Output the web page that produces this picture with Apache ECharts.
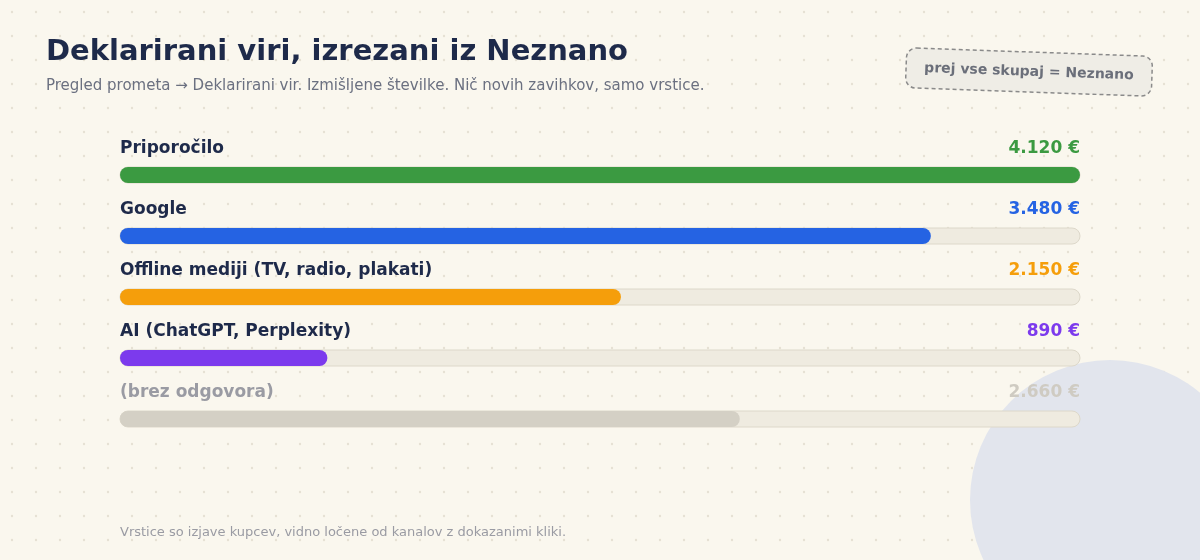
<!DOCTYPE html>
<html lang="sl">
<head>
<meta charset="UTF-8">
<title>Deklarirani viri</title>
<script src="https://cdn.jsdelivr.net/npm/echarts@6/dist/echarts.min.js"></script>
<style>html,body{margin:0;padding:0;background:#faf7ee}</style>
</head>
<body>
<div id="chart" style="width:1200px;height:560px;"></div>
<script>
    // podatki
    let sources = ['Priporočilo', 'Google', 'Offline mediji (TV, radio, plakati)', 'AI (ChatGPT, Perplexity)', '(brez odgovora)'];
    let amounts = [4120, 3480, 2150, 890, 2660];
    let colors = ['#3b9a41', '#2563e3', '#f59e0b', '#7c3aed', '#d4d0c5'];
    let nameColors = ['#1e2a4a', '#1e2a4a', '#1e2a4a', '#1e2a4a', '#9a9ba3'];
    let valueColors = ['#3b9a41', '#2563e3', '#f59e0b', '#7c3aed', '#cfcbc2'];
    let maxAmount = 4120;

    let font = '"DejaVu Sans", sans-serif';
    let fmt = function (v) { return String(v).replace(/\B(?=(\d{3})+(?!\d))/g, '.') + ' €'; };

    // pikčasto ozadje
    let dot = document.createElement('canvas');
    dot.width = 24; dot.height = 24;
    let dctx = dot.getContext('2d');
    dctx.fillStyle = '#faf7ee';
    dctx.fillRect(0, 0, 24, 24);
    dctx.fillStyle = '#e6e1d3';
    dctx.beginPath(); dctx.arc(12, 12, 1.2, 0, Math.PI * 2); dctx.fill();

    let chart = echarts.init(document.getElementById('chart'));
    let grids = [], xAxes = [], yAxes = [], series = [], texts = [];
    sources.forEach(function (s, i) {
        let top = 167 + 61 * i;
        grids.push({left: 120, width: 960, top: top, height: 16});
        xAxes.push({gridIndex: i, type: 'value', min: 0, max: maxAmount, show: false});
        yAxes.push({gridIndex: i, type: 'category', data: [s], show: false});
        series.push({
            type: 'bar', xAxisIndex: i, yAxisIndex: i, data: [amounts[i]], barWidth: 16,
            itemStyle: {color: colors[i], borderRadius: 8},
            showBackground: true,
            backgroundStyle: {color: '#efebe0', borderColor: '#ddd8ca', borderWidth: 1, borderRadius: 8},
            silent: true
        });
        texts.push({type: 'text', left: 120, top: top - 27,
            style: {text: s, font: 'bold 17px ' + font, fill: nameColors[i]}});
        texts.push({type: 'text', right: 120, top: top - 27,
            style: {text: fmt(amounts[i]), font: 'bold 17px ' + font, fill: valueColors[i], textAlign: 'right'}});
    });

    let option = {
        backgroundColor: {image: dot, repeat: 'repeat'},
        animation: false,
        grid: grids, xAxis: xAxes, yAxis: yAxes, series: series,
        graphic: [
            {type: 'circle', shape: {cx: 1110, cy: 500, r: 140}, style: {fill: '#e2e5ed'}, z: -10},
            {type: 'text', left: 46, top: 38, style: {text: 'Deklarirani viri, izrezani iz Neznano', font: 'bold 29px ' + font, fill: '#1e2a4a'}},
            {type: 'text', left: 46, top: 79, style: {text: 'Pregled prometa → Deklarirani vir. Izmišljene številke. Nič novih zavihkov, samo vrstice.', font: '15px ' + font, fill: '#6b7080'}},
            {type: 'group', x: 1029, y: 72, rotation: -0.035, children: [
                {type: 'rect', shape: {x: -123, y: -20, width: 246, height: 40, r: 10},
                    style: {fill: '#efede6', stroke: '#8a8a8a', lineWidth: 1.5, lineDash: [4, 3]}},
                {type: 'text', style: {text: 'prej vse skupaj = Neznano', x: 0, y: 0, font: 'bold 14px ' + font, fill: '#6b6f7a', textAlign: 'center', textVerticalAlign: 'middle'}}
            ]},
            {type: 'text', left: 120, top: 526, style: {text: 'Vrstice so izjave kupcev, vidno ločene od kanalov z dokazanimi kliki.', font: '13px ' + font, fill: '#9a9ba3'}}
        ].concat(texts)
    };
    chart.setOption(option);
</script>
</body>
</html>
